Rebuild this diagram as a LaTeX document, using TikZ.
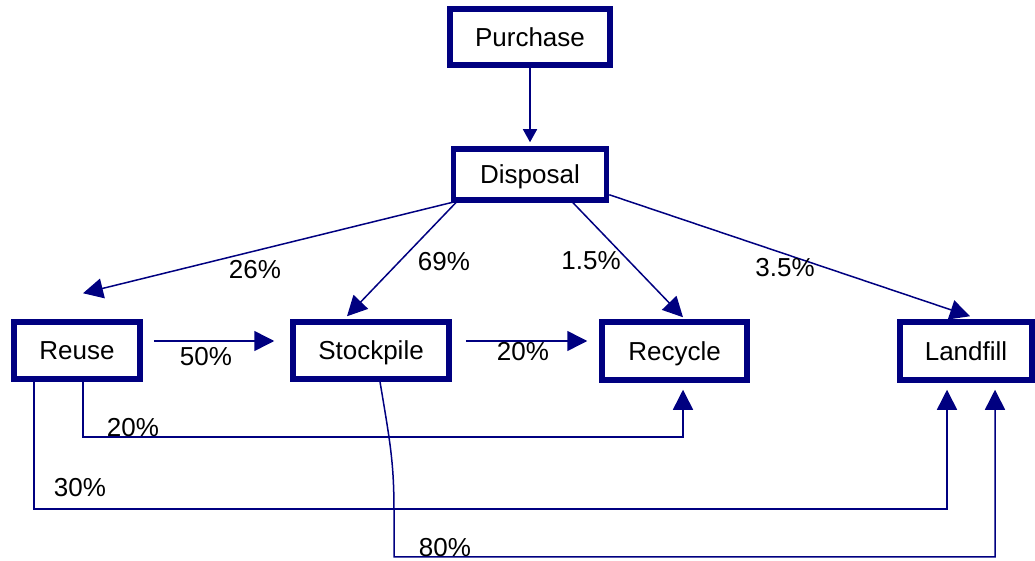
\documentclass[tikz,border=0pt]{standalone}
\usepackage{fontspec}
\setmainfont{Liberation Sans}
\usetikzlibrary{arrows.meta,calc}
\definecolor{flowblue}{RGB}{0,0,128}
\tikzset{
    box/.style={draw=flowblue, line width=5.5pt, fill=white, inner sep=0pt, text height=18.6pt, text depth=0pt, font=\fontsize{26}{30}\selectfont}, % boxes of the stages
    flow/.style={draw=flowblue, line width=1.5pt, -{Triangle[length=20pt,width=20pt]}}, % flow arrows
    pct/.style={font=\fontsize{26}{30}\selectfont, inner sep=0pt} % share labels
}

\begin{document}
\begin{tikzpicture}[x=1pt, y=1pt]
    \useasboundingbox (0,0) rectangle (1035,560);

    \node[box, minimum width=160pt, minimum height=56pt] (purchase) at (530,523) {Purchase};
    \node[box, minimum width=153pt, minimum height=51pt] (disposal) at (530,385.5) {Disposal};
    \node[box, minimum width=126pt, minimum height=57pt] (reuse) at (77,209.5) {Reuse};
    \node[box, minimum width=156pt, minimum height=57pt] (stockpile) at (371,209.5) {Stockpile};
    \node[box, minimum width=145pt, minimum height=58pt] (recycle) at (674.5,209) {Recycle};
    \node[box, minimum width=132pt, minimum height=58pt] (landfill) at (966,209) {Landfill};

    \draw[flow, -{Triangle[length=13pt,width=14pt]}, shorten >=4pt] (purchase.south) -- (disposal.north);
    \draw[flow] ($(disposal.south west)+(4,1)$) -- ($(reuse.north)+(6,26)$);
    \draw[flow] ($(disposal.south west)+(6,1)$) -- ($(stockpile.north)+(-24,3)$);
    \draw[flow] ($(disposal.south)+(43,0)$) -- ($(recycle.north)+(8.5,2)$);
    \draw[flow] ($(disposal.south east)+(0,8)$) -- ($(landfill.north)+(4,3)$);
    \draw[flow, shorten <=11pt, shorten >=16pt] ([yshift=9.5pt]reuse.east) -- ([yshift=9.5pt]stockpile.west);
    \draw[flow, shorten <=14pt, shorten >=12pt] ([yshift=9.5pt]stockpile.east) -- ([yshift=10pt]recycle.west);
    \draw[flow, shorten >=7pt] ([xshift=6pt]reuse.south) -- ++(0,-55) -| ([xshift=8.5pt]recycle.south);
    \draw[flow, shorten >=7pt] ([xshift=-43pt]reuse.south) -- ++(0,-127) -| ([xshift=-19pt]landfill.south);
    \draw[flow, shorten >=7pt] ([xshift=9pt]stockpile.south) .. controls +(10,-60) and +(0,50) .. ($(stockpile.south)+(23,-130)$) -- ++(0,-45) -| ([xshift=29pt]landfill.south);

    \node[pct] (p26) at (255,290) {26\%};
    \node[pct] (p69) at (444,298) {69\%};
    \node[pct] (p15) at (591,299) {1.5\%};
    \node[pct] (p35) at (785,292) {3.5\%};
    \node[pct] (p50) at (206,203) {50\%};
    \node[pct] (p20a) at (523,208) {20\%};
    \node[pct] (p20b) at (133,132) {20\%};
    \node[pct] (p30) at (80,72) {30\%};
    \node[pct] (p80) at (445,12) {80\%};
\end{tikzpicture}
\end{document}
